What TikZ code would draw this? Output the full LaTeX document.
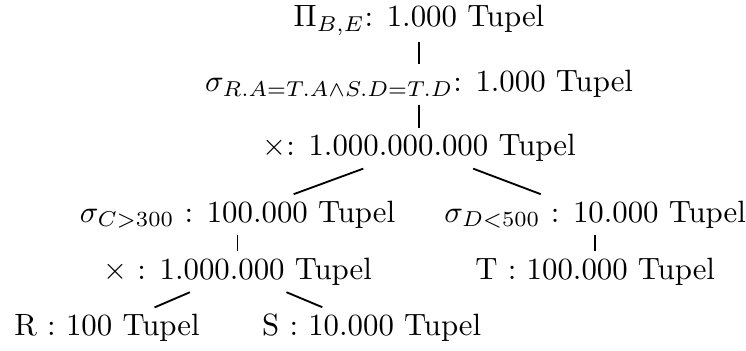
\documentclass[tikz,border=0pt]{standalone}
\usepackage{amsmath,amssymb}
\usepackage{tikz}
\usetikzlibrary{positioning}

\begin{document}
\begin{tikzpicture}[
  rel/.style={inner sep=2pt},
  edge/.style={semithick}
]
\useasboundingbox (0,0) rectangle (8.51,-4.0);
\node[rel] (proj) at (4.78,-0.23) {$\Pi_{B,E}$: 1.000 Tupel};
\node[rel] (sel) at (4.78,-0.96) {$\sigma_{R.A=T.A\wedge S.D=T.D}$: 1.000 Tupel};
\node[rel] (cross) at (4.78,-1.69) {$\times$: 1.000.000.000 Tupel};
\node[rel] (selc) at (2.71,-2.45) {$\sigma_{C>300}$ : 100.000 Tupel};
\node[rel] (seld) at (6.79,-2.45) {$\sigma_{D<500}$ : 10.000 Tupel};
\node[rel] (crossrs) at (2.71,-3.10) {$\times$ : 1.000.000 Tupel};
\node[rel] (relt) at (6.79,-3.10) {T : 100.000 Tupel};
\node[rel] (relr) at (1.22,-3.74) {R : 100 Tupel};
\node[rel] (rels) at (4.24,-3.74) {S : 10.000 Tupel};
\draw[edge] (proj)--(sel); \draw[edge] (sel)--(cross);
\draw[edge] (cross)--(selc); \draw[edge] (cross)--(seld);
\draw[edge] (selc)--(crossrs); \draw[edge] (seld)--(relt);
\draw[edge] (crossrs)--(relr); \draw[edge] (crossrs)--(rels);
\end{tikzpicture}
\end{document}
